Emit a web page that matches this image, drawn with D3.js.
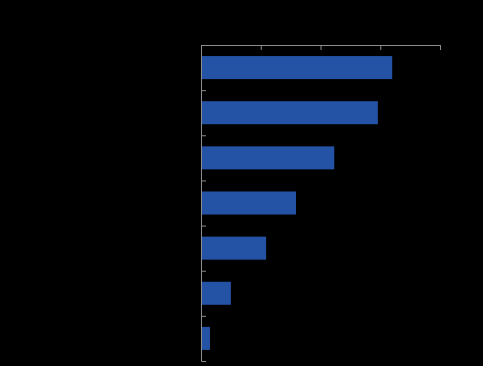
<!DOCTYPE html>
<html>
<head>
<meta charset="utf-8">
<script src="https://cdn.jsdelivr.net/npm/d3@7"></script>
<style>
  html, body { margin: 0; padding: 0; background: #000; }
  svg { display: block; }
</style>
</head>
<body>
<div id="chart"></div>
<script>
// donnees (aucun libelle visible)
const categories = ["c1", "c2", "c3", "c4", "c5", "c6", "c7"];
const values = [32.0, 29.6, 22.3, 15.9, 10.9, 5.0, 1.5];
const xTicks = [0, 10, 20, 30, 40];

const W = 483, H = 366;
const margin = {top: 45, right: 43, bottom: 5, left: 201};
const width = W - margin.left - margin.right;   // 239
const height = H - margin.top - margin.bottom;  // 316
const color = "#2452a4";
const axisColor = "#8c8c8c";

const svg = d3.select("#chart").append("svg")
    .attr("width", W)
    .attr("height", H)
    .style("background", "#000");

const g = svg.append("g")
    .attr("transform", `translate(${margin.left},${margin.top})`);

// echelles
const x = d3.scaleLinear().domain([0, 40]).range([0, width]);
const y = d3.scaleBand().domain(categories).range([0, height]).paddingInner(0.49).paddingOuter(0.245);
// ticks entre les categories (style excel)
const yEdge = d3.scaleLinear().domain([0, categories.length]).range([0, height]);

// barres
g.append("g").selectAll("rect")
  .data(categories)
  .join("rect")
    .attr("x", x(0))
    .attr("y", d => y(d))
    .attr("height", y.bandwidth())
    .attr("width", (d, i) => x(values[i]) - x(0))
    .attr("fill", color);

// axe du haut
const ax = g.append("g")
    .call(d3.axisTop(x).tickValues(xTicks).tickSizeInner(-5).tickSizeOuter(-5).tickFormat(""));

// axe de gauche
const ay = g.append("g")
    .call(d3.axisLeft(yEdge).tickValues(d3.range(1, categories.length)).tickSizeInner(-5).tickSizeOuter(-5).tickFormat(""));

[ax, ay].forEach(a => {
  a.selectAll("path, line").attr("stroke", axisColor);
});
</script>
</body>
</html>
